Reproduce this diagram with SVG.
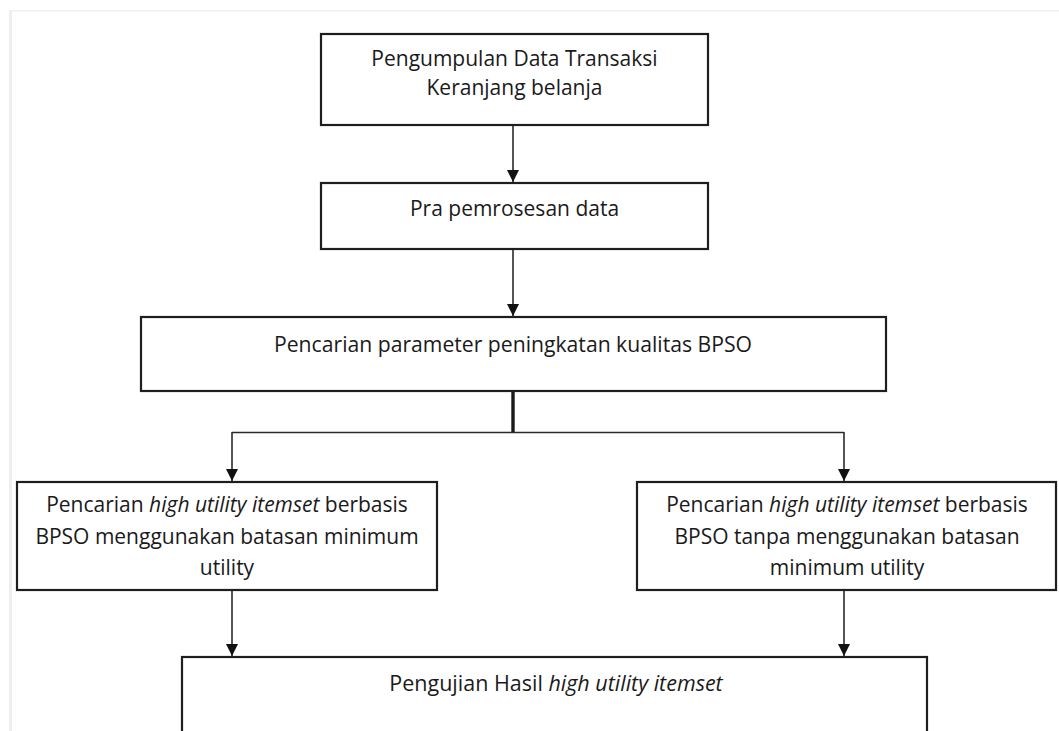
<svg xmlns="http://www.w3.org/2000/svg" width="1059" height="731" viewBox="0 0 1059 731">
<style>
.box{fill:#fff;stroke:#1e1e1e;stroke-width:2.2}
.t{font-family:"Open Sans","Liberation Sans",sans-serif;font-size:21px;fill:#1a1a1a;text-anchor:middle}
.c{fill:none;stroke:#2a2a2a;stroke-width:1.6}
</style>
<defs>
<marker id="arr" markerUnits="userSpaceOnUse" markerWidth="12" markerHeight="12" viewBox="0 0 12 12" refX="12" refY="6" orient="auto">
<path d="M0,0 L12,6 L0,12 Z" fill="#111"/>
</marker>
</defs>
<rect width="1059" height="731" fill="#fff"/>
<rect x="9" y="11" width="3" height="720" fill="#efefef"/>
<rect x="9" y="10" width="1050" height="1.5" fill="#f0f0f0"/>

<g id="connectors">
<path class="c" d="M513,125 V182" marker-end="url(#arr)"/>
<path class="c" d="M513,249 V316" marker-end="url(#arr)"/>
<path d="M513,391 V433" stroke="#1a1a1a" stroke-width="3.4" fill="none"/>
<path class="c" d="M232,432.5 H844"/>
<path class="c" d="M232,432 V481" marker-end="url(#arr)"/>
<path class="c" d="M844,432 V481" marker-end="url(#arr)"/>
<path class="c" d="M232,590 V656" marker-end="url(#arr)"/>
<path class="c" d="M844,590 V656" marker-end="url(#arr)"/>
</g>

<g id="n1">
<rect class="box" x="321" y="34" width="387" height="91"/>
<text class="t" x="514.5" y="66">Pengumpulan Data Transaksi</text>
<text class="t" x="514.5" y="95">Keranjang belanja</text>
</g>
<g id="n2">
<rect class="box" x="321" y="183" width="387" height="66"/>
<text class="t" x="514.5" y="216">Pra pemrosesan data</text>
</g>
<g id="n3">
<rect class="box" x="141" y="317" width="745" height="74"/>
<text class="t" x="513" y="352" style="font-size:22px" textLength="478" lengthAdjust="spacingAndGlyphs">Pencarian parameter peningkatan kualitas BPSO</text>
</g>
<g id="n4">
<rect class="box" x="17" y="482" width="420" height="108"/>
<text class="t" x="227" y="512">Pencarian <tspan font-style="italic">high utility itemset</tspan> berbasis</text>
<text class="t" x="227" y="544">BPSO menggunakan batasan minimum</text>
<text class="t" x="227" y="575">utility</text>
</g>
<g id="n5">
<rect class="box" x="637" y="482" width="419" height="108"/>
<text class="t" x="847" y="512">Pencarian <tspan font-style="italic">high utility itemset</tspan> berbasis</text>
<text class="t" x="847" y="544">BPSO tanpa menggunakan batasan</text>
<text class="t" x="847" y="575">minimum utility</text>
</g>
<g id="n6">
<rect class="box" x="182" y="657" width="745" height="80"/>
<text class="t" x="556" y="691" style="font-size:21.5px">Pengujian Hasil <tspan font-style="italic">high utility itemset</tspan></text>
</g>
</svg>
